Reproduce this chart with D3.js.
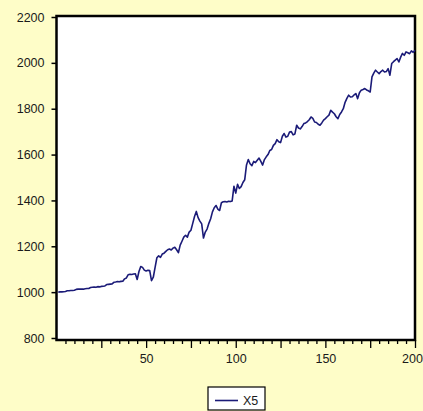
<!DOCTYPE html>
<html><head><meta charset="utf-8">
<script src="https://cdn.jsdelivr.net/npm/d3@7"></script>
<style>html,body{margin:0;padding:0;background:#FEFDC8;}svg{display:block;}</style>
</head><body>
<svg id="chart" width="423" height="411"></svg>
<script>
const seriesName = "X5";
const x5 = [
1000,1001,1001,1002,1003,1006,1006,1007,1007,1008,
1012,1013,1013,1014,1013,1015,1016,1016,1020,1021,
1022,1021,1024,1023,1025,1026,1027,1033,1034,1035,
1036,1043,1044,1046,1045,1047,1048,1058,1062,1076,
1078,1077,1079,1080,1055,1090,1112,1108,1096,1092,
1095,1094,1050,1065,1108,1150,1158,1152,1166,1170,
1178,1185,1188,1184,1192,1196,1185,1172,1205,1222,
1240,1248,1240,1262,1270,1300,1330,1352,1325,1310,
1298,1236,1262,1275,1300,1320,1350,1368,1378,1362,
1356,1390,1394,1395,1393,1396,1395,1398,1462,1432,
1470,1452,1460,1478,1490,1555,1578,1560,1552,1570,
1565,1575,1585,1570,1554,1578,1590,1600,1618,1622,
1640,1648,1665,1656,1652,1680,1692,1676,1680,1698,
1700,1686,1690,1728,1716,1712,1722,1735,1738,1744,
1752,1764,1758,1742,1740,1732,1728,1738,1750,1757,
1765,1772,1793,1785,1778,1765,1757,1775,1786,1800,
1828,1845,1859,1851,1852,1860,1866,1844,1870,1881,
1884,1888,1882,1878,1873,1939,1955,1968,1960,1953,
1962,1968,1960,1962,1975,1946,1997,2005,2012,2019,
2004,2025,2041,2033,2048,2044,2040,2052,2046,2055
];
const yTicks = [800,1000,1200,1400,1600,1800,2000,2200];
const xLabelTicks = [50,100,150,200];

const svg = d3.select("#chart");
const pL = 56.5, pR = 415, pT = 16, pB = 340;
const x = d3.scaleLinear().domain([0,200]).range([pL,pR]);
const y = d3.scaleLinear().domain([800,2200]).range([338,17]);

svg.append("rect").attr("width",423).attr("height",411).attr("fill","#FEFDC8");
svg.append("rect").attr("x",pL).attr("y",pT).attr("width",pR-pL).attr("height",pB-pT)
  .attr("fill","#ffffff");

const font = "'Liberation Sans',Arial,sans-serif";
const fs = 12.5;

// Y axis
const yAxis = d3.axisLeft(y).tickValues(yTicks).tickSize(5).tickPadding(7).tickFormat(d3.format("d"));
const gy = svg.append("g").attr("transform",`translate(${pL},0)`).call(yAxis);
gy.select(".domain").remove();
gy.selectAll("line").attr("stroke","#000").attr("stroke-width",1.5);
gy.selectAll("text").attr("font-family",font).attr("font-size",fs).attr("fill","#1a1a1a");

// X axis ticks
const minor = d3.range(5,201,5);
const gx = svg.append("g").attr("transform",`translate(0,${pB})`);
gx.call(d3.axisBottom(x).tickValues(minor).tickSize(4).tickFormat(""));
gx.select(".domain").remove();
gx.selectAll(".tick line").attr("stroke","#000").attr("stroke-width",1.3)
  .attr("y2", d => d % 25 === 0 ? 8 : 4);
const gxl = svg.append("g").attr("transform",`translate(0,${pB})`)
  .call(d3.axisBottom(x).tickValues(xLabelTicks).tickSize(0).tickPadding(14).tickFormat(d3.format("d")));
gxl.select(".domain").remove();
gxl.selectAll("text").attr("font-family",font).attr("font-size",fs).attr("fill","#1a1a1a")
  .attr("dx", d => d === 200 ? -3 : 0);

// Frame
svg.append("rect").attr("x",pL).attr("y",pT).attr("width",pR-pL).attr("height",pB-pT)
  .attr("fill","none").attr("stroke","#000").attr("stroke-width",2.5);

// Line
const line = d3.line().x((d,i)=>x(i+1)).y(d=>y(d));
svg.append("path").datum(x5).attr("d",line).attr("fill","none")
  .attr("stroke","#1b1b78").attr("stroke-width",1.6).attr("stroke-linejoin","round");

// Legend
const lg = svg.append("g");
lg.append("rect").attr("x",208).attr("y",387).attr("width",57).attr("height",23)
  .attr("fill","#ffffff").attr("stroke","#000").attr("stroke-width",1.2);
lg.append("line").attr("x1",215).attr("x2",238).attr("y1",400.5).attr("y2",400.5)
  .attr("stroke","#1b1b78").attr("stroke-width",1.6);
lg.append("text").attr("x",243).attr("y",405).text(seriesName)
  .attr("font-family",font).attr("font-size",fs).attr("fill","#1a1a1a");
</script>
</body></html>
